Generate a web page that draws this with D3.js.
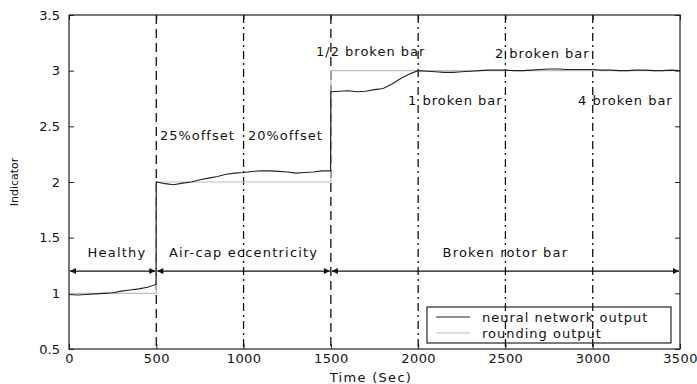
<!DOCTYPE html>
<html>
<head>
<meta charset="utf-8">
<script src="https://cdn.jsdelivr.net/npm/d3@7"></script>
<style>
  body { margin: 0; background: #fff; }
  text { font-family: "DejaVu Sans", "Liberation Sans", Arial, sans-serif; fill: #111; }
</style>
</head>
<body>
<svg id="chart" width="697" height="384"></svg>
<script>
// neural network output (time, indicator)
const nnTime = [0, 50, 100, 150, 200, 250, 300, 350, 400, 450, 499,
  500, 550, 600, 650, 700, 750, 800, 850, 900, 950, 1000, 1050, 1100, 1150, 1200,
  1250, 1300, 1350, 1400, 1450, 1498, 1499,
  1500, 1550, 1600, 1650, 1700, 1750, 1800, 1850, 1900, 1950, 2000, 2050, 2100,
  2150, 2200, 2250, 2300, 2350, 2400, 2450, 2500, 2550, 2600, 2650, 2700, 2750,
  2800, 2850, 2900, 2950, 3000, 3050, 3100, 3150, 3200, 3250, 3300, 3350, 3400,
  3450, 3500];
const nnValue = [0.99, 0.985, 0.99, 0.995, 1.0, 1.005, 1.02, 1.03, 1.04, 1.055, 1.08,
  2.0, 1.985, 1.975, 1.99, 2.0, 2.02, 2.035, 2.05, 2.07, 2.08, 2.085, 2.095, 2.1, 2.1, 2.095,
  2.09, 2.08, 2.085, 2.09, 2.1, 2.1, 2.45,
  2.81, 2.815, 2.82, 2.81, 2.815, 2.83, 2.84, 2.88, 2.93, 2.97, 3.0, 2.995, 2.99,
  2.985, 2.985, 2.99, 2.995, 3.0, 3.005, 3.005, 3.005, 3.0, 3.0, 3.005, 3.01, 3.015,
  3.015, 3.01, 3.01, 3.01, 3.01, 3.005, 3.005, 3.0, 3.0, 3.005, 3.005, 3.0, 3.0,
  3.005, 3.0];

// rounding output (step)
const roundTime = [0, 500, 500, 1500, 1500, 3500];
const roundValue = [1, 1, 2, 2, 3, 3];

const xTicks = [0, 500, 1000, 1500, 2000, 2500, 3000, 3500];
const yTicks = [0.5, 1, 1.5, 2, 2.5, 3, 3.5];

// vertical separators: time and style
const sepTime = [500, 1000, 1500, 2000, 2500, 3000];
const sepStyle = ["dash", "dashdot", "dash", "dashdot", "dashdot", "dashdot"];

// state ranges with arrows
const stateStart = [0, 500, 1500];
const stateEnd = [500, 1500, 3500];
const stateLabel = ["Healthy", "Air-cap eccentricity", "Broken rotor bar"];
const stateLabelTime = [275, 1000, 2500];

// annotations
const noteText = ["25%offset", "20%offset", "1/2 broken bar", "1 broken bar", "2 broken bar", "4 broken bar"];
const noteTime = [521, 1025, 1415, 1942, 2440, 2916];
const noteValue = [2.38, 2.38, 3.13, 2.69, 3.115, 2.69];

const legendLabels = ["neural network output", "rounding output"];

const svg = d3.select("#chart");
const margin = { left: 69, right: 17, top: 15, bottom: 35 };
const W = 697, H = 384;

const x = d3.scaleLinear().domain([0, 3500]).range([margin.left, W - margin.right]);
const y = d3.scaleLinear().domain([0.5, 3.5]).range([H - margin.bottom, margin.top]);

// axes with inward ticks (MATLAB style)
const xAxis = d3.axisBottom(x).tickValues(xTicks).tickSizeInner(-5).tickSizeOuter(0).tickPadding(7).tickFormat(d3.format("d"));
const yAxis = d3.axisLeft(y).tickValues(yTicks).tickSizeInner(-5).tickSizeOuter(0).tickPadding(9).tickFormat(d3.format("~g"));

const gx = svg.append("g").attr("transform", `translate(0,${y(0.5)})`).call(xAxis);
const gy = svg.append("g").attr("transform", `translate(${x(0)},0)`).call(yAxis);
[gx, gy].forEach(g => {
    g.select(".domain").remove();
    g.selectAll("line").attr("stroke", "#222");
    g.selectAll("text").style("font-size", "13px").attr("fill", "#111");
});
gx.selectAll("text").attr("dy", "0.55em").style("letter-spacing", "0.4px");

// top and right ticks
svg.append("g").attr("transform", `translate(0,${y(3.5)})`)
    .call(d3.axisTop(x).tickValues(xTicks).tickSizeInner(-5).tickSizeOuter(0).tickFormat(""))
    .call(g => g.select(".domain").remove())
    .selectAll("line").attr("stroke", "#222");
svg.append("g").attr("transform", `translate(${x(3500)},0)`)
    .call(d3.axisRight(y).tickValues(yTicks).tickSizeInner(-5).tickSizeOuter(0).tickFormat(""))
    .call(g => g.select(".domain").remove())
    .selectAll("line").attr("stroke", "#222");

// separators
svg.append("g").selectAll("line")
    .data(sepTime)
    .enter()
    .append("line")
    .attr("x1", d => x(d)).attr("x2", d => x(d))
    .attr("y1", y(3.5)).attr("y2", y(0.5))
    .attr("stroke", "#111")
    .attr("stroke-width", 1.3)
    .attr("stroke-dasharray", (d, i) => sepStyle[i] === "dash" ? "9,5" : "8,4,2,4");

// rounding output
const line = d3.line().x(d => x(d[0])).y(d => y(d[1]));
svg.append("path")
    .datum(roundTime.map((t, i) => [t, roundValue[i]]))
    .attr("d", line)
    .attr("fill", "none")
    .attr("stroke", "#bdbdbd")
    .attr("stroke-width", 1.2);

// neural network output
svg.append("path")
    .datum(nnTime.map((t, i) => [t, nnValue[i]]))
    .attr("d", line)
    .attr("fill", "none")
    .attr("stroke", "#222")
    .attr("stroke-width", 1.1);

// arrows
const defs = svg.append("defs");
defs.append("marker")
    .attr("id", "arrowEnd")
    .attr("viewBox", "0 0 10 10")
    .attr("refX", 10).attr("refY", 5)
    .attr("markerWidth", 11).attr("markerHeight", 6)
    .attr("markerUnits", "userSpaceOnUse")
    .attr("orient", "auto-start-reverse")
    .append("path")
    .attr("d", "M0,0 L10,5 L0,10 z")
    .attr("fill", "#111");

const arrowY = y(1.2);
svg.append("g").selectAll("line")
    .data(stateStart)
    .enter()
    .append("line")
    .attr("x1", d => x(d) + 1)
    .attr("x2", (d, i) => x(stateEnd[i]) - 1)
    .attr("y1", arrowY).attr("y2", arrowY)
    .attr("stroke", "#111")
    .attr("stroke-width", 1.2)
    .attr("marker-start", "url(#arrowEnd)")
    .attr("marker-end", "url(#arrowEnd)");

svg.append("g").selectAll("text")
    .data(stateLabel)
    .enter()
    .append("text")
    .attr("x", (d, i) => x(stateLabelTime[i]))
    .attr("y", y(1.325))
    .attr("text-anchor", "middle")
    .style("font-size", "13px")
    .style("letter-spacing", "1.2px")
    .text(d => d);

svg.append("g").selectAll("text")
    .data(noteText)
    .enter()
    .append("text")
    .attr("x", (d, i) => x(noteTime[i]))
    .attr("y", (d, i) => y(noteValue[i]))
    .style("font-size", "13px")
    .style("letter-spacing", "1px")
    .text(d => d);

// frame
svg.append("rect")
    .attr("x", x(0)).attr("y", y(3.5))
    .attr("width", x(3500) - x(0)).attr("height", y(0.5) - y(3.5))
    .attr("fill", "none")
    .attr("stroke", "#222")
    .attr("stroke-width", 1.2);

// legend
const lg = svg.append("g").attr("transform", "translate(427,307)");
lg.append("rect")
    .attr("width", 244).attr("height", 36)
    .attr("fill", "none")
    .attr("stroke", "#111")
    .attr("stroke-width", 1.1);
const legendColors = ["#222", "#bdbdbd"];
legendLabels.forEach((lab, i) => {
    lg.append("line")
        .attr("x1", 9).attr("x2", 43)
        .attr("y1", 10 + i * 16).attr("y2", 10 + i * 16)
        .attr("stroke", legendColors[i])
        .attr("stroke-width", 1.2);
    lg.append("text")
        .attr("x", 55).attr("y", 14.5 + i * 16)
        .style("font-size", "13px")
        .style("letter-spacing", "1px")
        .text(lab);
});

// axis titles
svg.append("text")
    .attr("x", x(1730)).attr("y", 382)
    .attr("text-anchor", "middle")
    .style("font-size", "13px")
    .style("letter-spacing", "1.3px")
    .text("Time (Sec)");
svg.append("text")
    .attr("transform", `translate(18,${y(2)}) rotate(-90)`)
    .attr("text-anchor", "middle")
    .style("font-size", "11px")
    .text("Indicator");
</script>
</body>
</html>
